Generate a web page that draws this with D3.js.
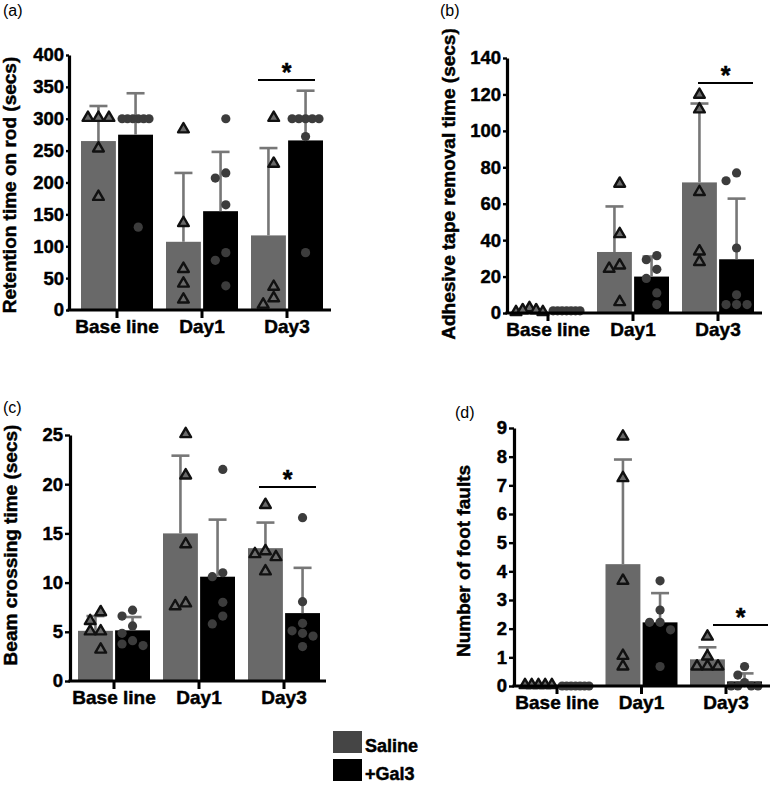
<!DOCTYPE html>
<html><head><meta charset="utf-8">
<script src="https://cdn.jsdelivr.net/npm/d3@7"></script>
<style>
html,body{margin:0;padding:0;background:#fff;}
text{font-family:"Liberation Sans",Arial,sans-serif;}
.heavy{stroke:#000;stroke-width:0.45px;paint-order:stroke;}
</style></head>
<body><svg id="chart" width="776" height="789"></svg>
<script>
// ---------- DATA ----------
const categories = ["Base line", "Day1", "Day3"];
const series = ["Saline", "+Gal3"];

// (a) Retention time on rod
const aTicks = [0, 50, 100, 150, 200, 250, 300, 350, 400];
const aSalineMean = [265, 107, 117];
const aSalineErrHigh = [320, 215, 254];
const aSalinePoints = [[300, 300, 300, 252, 176], [282, 135, 63, 40, 15], [300, 228, 35, 17, 7]];
const aGal3Mean = [275, 155, 266];
const aGal3ErrHigh = [340, 248, 344];
const aGal3Points = [[300, 300, 300, 300, 300, 300, 130], [300, 215, 207, 165, 90, 78, 38], [300, 300, 300, 300, 300, 272, 90]];

// (b) Adhesive tape removal time
const bTicks = [0, 20, 40, 60, 80, 100, 120, 140];
const bSalineMean = [0.8, 33.5, 71.7];
const bSalineErrHigh = [1.8, 58.5, 115];
const bSalinePoints = [[0, 2.2, 1, 1, 0], [70.5, 42.8, 25.6, 23.8, 5.5], [119.3, 111.3, 65.9, 33.3, 27.5]];
const bGal3Mean = [1.2, 20, 29.5];
const bGal3ErrHigh = [1.8, 31, 62.8];
const bGal3Points = [[1.2, 1.2, 1.2, 1.2, 1.2, 1.2, 1.2], [31.5, 29.3, 24, 19, 11, 4.6], [76.9, 72.6, 35.7, 10, 4.6, 4.6, 4.6]];

// (c) Beam crossing time
const cTicks = [0, 5, 10, 15, 20, 25];
const cSalineMean = [5.1, 15.0, 13.5];
const cSalineErrHigh = [6.6, 22.9, 16.1];
const cSalinePoints = [[6.9, 6.0, 4.95, 4.95, 3.1], [25, 20.8, 13.8, 7.8, 7.5], [17.8, 13.1, 12.8, 12.5, 11.05]];
const cGal3Mean = [5.15, 10.6, 6.9];
const cGal3ErrHigh = [6.5, 16.4, 11.5];
const cGal3Points = [[7.2, 6.6, 5.6, 4.85, 4.1, 3.76, 3.6], [21.5, 11.0, 10.6, 8.0, 6.6, 5.8], [16.6, 8.06, 5.86, 5.1, 4.85, 4.57, 3.5]];

// (d) Number of foot faults
const dTicks = [0, 1, 2, 3, 4, 5, 6, 7, 8, 9];
const dSalineMean = [0, 4.25, 0.93];
const dSalineErrHigh = [0, 7.9, 1.35];
const dSalinePoints = [[0, 0, 0, 0, 0], [8.67, 7.22, 3.64, 1.02, 0.65], [1.69, 1.0, 0.65, 0.65, 0.65]];
const dGal3Mean = [0, 2.22, 0.16];
const dGal3ErrHigh = [0, 3.24, 0.44];
const dGal3Points = [[0, 0, 0, 0, 0, 0, 0], [3.67, 2.65, 2.22, 2.22, 1.96, 0.68], [0.68, 0.38, 0.12, 0, 0, 0, 0]];

const sigCategory = "Day3";

// ---------- PANELS (data refs + layout) ----------
const panels = [
  {label: "(a)", ylabel: "Retention time on rod (secs)", ticks: aTicks,
   mean: [aSalineMean, aGal3Mean], err: [aSalineErrHigh, aGal3ErrHigh], pts: [aSalinePoints, aGal3Points],
   L: {lx: 3, ly: 16, ax: 69, top: 55, bot: 310, xEnd: 331, c0: 117, step: 85, ylx: 16, yly: 185, sig: [7, -8], sigY: 80, tick: 3}},
  {label: "(b)", ylabel: "Adhesive tape removal time (secs)", ticks: bTicks,
   mean: [bSalineMean, bGal3Mean], err: [bSalineErrHigh, bGal3ErrHigh], pts: [bSalinePoints, bGal3Points],
   L: {lx: 440, ly: 16, ax: 507, top: 58, bot: 313, xEnd: 762, c0: 548, step: 85, ylx: 455, yly: 184, sig: [16, -1], sigY: 83, tick: 4}},
  {label: "(c)", ylabel: "Beam crossing time (secs)", ticks: cTicks,
   mean: [cSalineMean, cGal3Mean], err: [cSalineErrHigh, cGal3ErrHigh], pts: [cSalinePoints, cGal3Points],
   L: {lx: 3, ly: 413, ax: 70, top: 435, bot: 681, xEnd: 326, c0: 114, step: 85, ylx: 17, yly: 545, sig: [11, -4], sigY: 487, tick: 5}},
  {label: "(d)", ylabel: "Number of foot faults", ticks: dTicks,
   mean: [dSalineMean, dGal3Mean], err: [dSalineErrHigh, dGal3ErrHigh], pts: [dSalinePoints, dGal3Points],
   L: {lx: 455, ly: 418, ax: 514, top: 428, bot: 686, xEnd: 770, c0: 557, step: 84.5, ylx: 470, yly: 561, sig: [23, 6], sigY: 625, tick: 5}}
];

const barColors = ["#696969", "#000000"];
const svg = d3.select("#chart");

function beeswarm(ys, r, s, maxHalf) {
  const order = ys.map((y, i) => i).sort((a, b) => ys[a] - ys[b]);
  const placed = [];
  const off = new Array(ys.length).fill(0);
  for (const i of order) {
    for (let k = 0; k < 20; k++) {
      const m = k === 0 ? 0 : (k % 2 ? -Math.ceil(k / 2) : Math.ceil(k / 2));
      const dx = m * s;
      const hit = placed.some(p => Math.abs(p.y - ys[i]) < r && Math.abs(p.x - dx) < r);
      if (!hit) { off[i] = dx; placed.push({x: dx, y: ys[i]}); break; }
    }
  }
  const mn = d3.min(off), mx = d3.max(off);
  const shift = -(mn + mx) / 2;
  let o2 = off.map(v => v + shift);
  const ma = d3.max(o2, v => Math.abs(v));
  if (ma > maxHalf) o2 = o2.map(v => v * maxHalf / ma);
  return o2;
}

panels.forEach(P => {
  const L = P.L;
  const g = svg.append("g");
  const y = d3.scaleLinear().domain([0, d3.max(P.ticks)]).range([L.bot, L.top]);
  const pIn = 1 - 72 / L.step;
  const x = d3.scaleBand().domain(categories)
    .range([L.c0 - L.step / 2, L.c0 + 2.5 * L.step])
    .paddingInner(pIn).paddingOuter(pIn / 2);
  const xs = d3.scaleBand().domain(series).range([0, x.bandwidth()]).paddingInner(0.06);
  const bw = xs.bandwidth();

  // panel letter
  g.append("text").attr("x", L.lx).attr("y", L.ly).attr("font-size", 16).text(P.label);

  // bars
  series.forEach((s, si) => {
    categories.forEach((c, ci) => {
      const x0 = x(c) + xs(s);
      const m = P.mean[si][ci];
      g.append("rect").attr("x", x0).attr("width", bw)
        .attr("y", y(m)).attr("height", y(0) - y(m)).attr("fill", barColors[si]);
    });
  });
  // error bars
  series.forEach((s, si) => {
    categories.forEach((c, ci) => {
      const cx = x(c) + xs(s) + bw / 2;
      const m = P.mean[si][ci], e = P.err[si][ci];
      if (e - m <= 0) return;
      g.append("line").attr("x1", cx).attr("x2", cx).attr("y1", y(m)).attr("y2", y(e))
        .attr("stroke", "#777").attr("stroke-width", 2.6);
      g.append("line").attr("x1", cx - 9).attr("x2", cx + 9).attr("y1", y(e)).attr("y2", y(e))
        .attr("stroke", "#777").attr("stroke-width", 2.6);
    });
  });
  // points
  series.forEach((s, si) => {
    categories.forEach((c, ci) => {
      const cx = x(c) + xs(s) + bw / 2;
      const vals = P.pts[si][ci];
      const py = vals.map(v => y(v));
      const offs = beeswarm(py, 9.5, 10.5, bw / 2 - 4);
      vals.forEach((v, i) => {
        if (si === 0) {
          g.append("path").attr("d", d3.symbol(d3.symbolTriangle, 50)())
            .attr("transform", `translate(${cx + offs[i]},${py[i] - 1})`)
            .attr("fill", "#6a6a6a").attr("stroke", "#111").attr("stroke-width", 2.4)
            .attr("stroke-linejoin", "round");
        } else {
          g.append("circle").attr("cx", cx + offs[i]).attr("cy", py[i]).attr("r", 4.6)
            .attr("fill", "#3c3c3c");
        }
      });
    });
  });

  // y axis
  const ya = g.append("g").attr("transform", `translate(${L.ax},0)`)
    .call(d3.axisLeft(y).tickValues(P.ticks).tickSize(L.tick).tickSizeOuter(0).tickFormat(d3.format("d")));
  ya.select(".domain").attr("stroke", "#000").attr("stroke-width", 3.2);
  ya.selectAll(".tick line").attr("stroke", "#000").attr("stroke-width", 2.4);
  ya.selectAll(".tick text").attr("font-size", 18.5).attr("font-weight", "bold").attr("class", "heavy")
    .attr("font-family", "'Liberation Sans', Arial, sans-serif").attr("fill", "#000").attr("x", -L.tick - 2);

  // x axis
  const xa = g.append("g").attr("transform", `translate(0,${L.bot})`)
    .call(d3.axisBottom(x).tickSize(8).tickSizeOuter(0));
  xa.select(".domain").remove();
  xa.selectAll(".tick line").attr("stroke", "#000").attr("stroke-width", 3);
  xa.selectAll(".tick text").attr("font-size", 19).attr("font-weight", "bold").attr("class", "heavy")
    .attr("font-family", "'Liberation Sans', Arial, sans-serif").attr("fill", "#000").attr("y", 10);
  g.append("line").attr("x1", L.ax - 1.6).attr("x2", L.xEnd).attr("y1", L.bot).attr("y2", L.bot)
    .attr("stroke", "#000").attr("stroke-width", 3.2);

  // y label
  g.append("text").attr("transform", `translate(${L.ylx},${L.yly}) rotate(-90)`).attr("class", "heavy")
    .attr("text-anchor", "middle").attr("font-size", 19).attr("font-weight", "bold").text(P.ylabel);

  // significance
  const sx0 = x(sigCategory) + L.sig[0], sx1 = x(sigCategory) + x.bandwidth() + L.sig[1];
  g.append("line").attr("x1", sx0).attr("x2", sx1).attr("y1", L.sigY).attr("y2", L.sigY)
    .attr("stroke", "#000").attr("stroke-width", 2);
  g.append("text").attr("x", (sx0 + sx1) / 2).attr("y", L.sigY + 1).attr("text-anchor", "middle")
    .attr("font-size", 25).attr("font-weight", "bold").attr("class", "heavy").text("*");
});

// legend
const lg = svg.append("g").attr("transform", "translate(333,731)");
series.forEach((s, i) => {
  lg.append("rect").attr("x", 0).attr("y", i * 28).attr("width", 29).attr("height", 22)
    .attr("fill", i === 0 ? "#454545" : "#000");
  lg.append("text").attr("x", 32).attr("y", i * 28 + 21).attr("font-size", 18).attr("class", "heavy")
    .attr("font-weight", "bold").text(s);
});
</script></body></html>
